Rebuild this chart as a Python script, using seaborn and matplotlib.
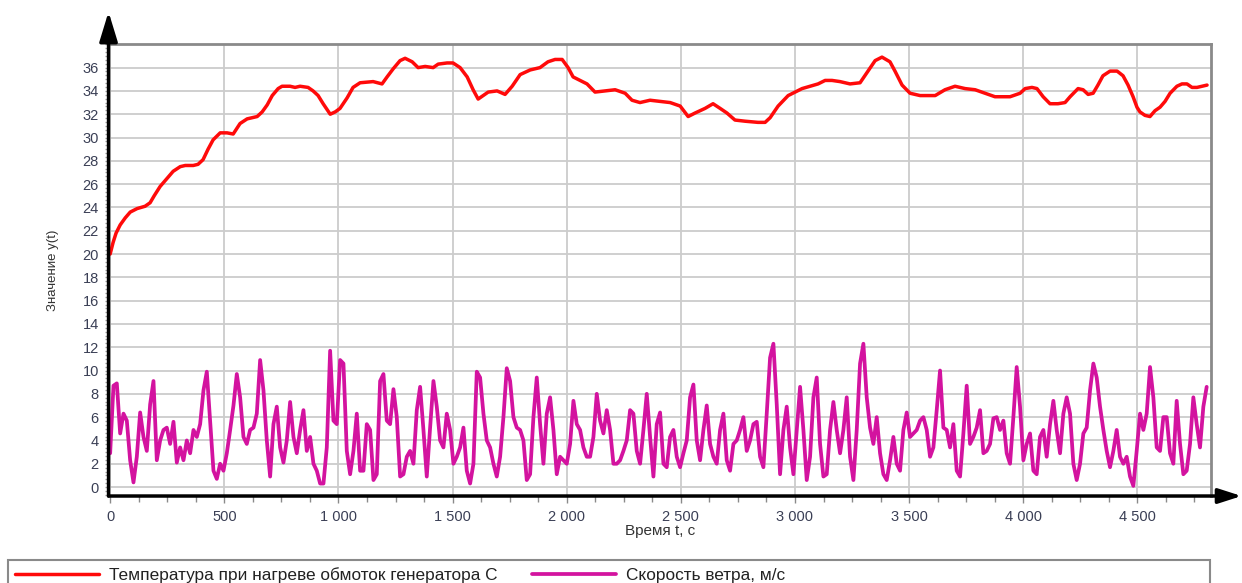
import matplotlib
matplotlib.use("Agg")
import numpy as np
import pandas as pd
import seaborn as sns
import matplotlib.pyplot as plt
from matplotlib.ticker import MultipleLocator, FuncFormatter
from matplotlib.patches import Rectangle

# ---------------- data ----------------
temp_label = "Температура при нагреве обмоток генератора С"
wind_label = "Скорость ветра, м/с"
x_label = "Время t, с"
y_label = "Значение y(t)"

temp_time = [0, 13, 26, 44, 66, 88, 118, 153, 175, 193, 219, 250, 276, 307, 329, 364,
             385, 407, 429, 451, 482, 512, 539, 569, 600, 644, 666, 688, 710, 736, 753,
             788, 810, 832, 867, 889, 911, 933, 964, 986, 1007, 1038, 1064, 1095, 1152,
             1191, 1213, 1240, 1270, 1292, 1323, 1349, 1380, 1415, 1437, 1476, 1502, 1533,
             1564, 1590, 1612, 1634, 1656, 1695, 1730, 1761, 1796, 1840, 1883, 1918, 1949,
             1980, 2006, 2028, 2059, 2089, 2124, 2168, 2212, 2256, 2286, 2321, 2365, 2409,
             2453, 2497, 2532, 2562, 2606, 2641, 2672, 2702, 2737, 2781, 2838, 2869, 2891,
             2926, 2970, 3000, 3031, 3066, 3101, 3132, 3162, 3197, 3241, 3285, 3320, 3351,
             3381, 3416, 3438, 3469, 3504, 3548, 3614, 3657, 3701, 3745, 3789, 3833, 3876,
             3942, 3986, 4008, 4038, 4060, 4087, 4117, 4152, 4183, 4205, 4240, 4262, 4284,
             4306, 4327, 4349, 4380, 4411, 4437, 4459, 4481, 4498, 4511, 4533, 4555, 4577,
             4599, 4621, 4643, 4673, 4695, 4717, 4739, 4761, 4783, 4805]
temp_values = [20.0, 21.0, 21.8, 22.5, 23.1, 23.6, 23.9, 24.1, 24.4, 25.0, 25.8, 26.5,
               27.1, 27.5, 27.6, 27.6, 27.7, 28.1, 29.0, 29.8, 30.4, 30.4, 30.3, 31.2,
               31.6, 31.8, 32.2, 32.8, 33.6, 34.2, 34.4, 34.4, 34.3, 34.4, 34.3, 34.0,
               33.6, 32.9, 32.0, 32.2, 32.5, 33.4, 34.3, 34.7, 34.8, 34.6, 35.2, 35.9,
               36.6, 36.8, 36.5, 36.0, 36.1, 36.0, 36.3, 36.4, 36.4, 36.0, 35.2, 34.1,
               33.3, 33.6, 33.9, 34.0, 33.7, 34.4, 35.4, 35.8, 36.0, 36.5, 36.7, 36.7,
               36.0, 35.2, 34.9, 34.6, 33.9, 34.0, 34.1, 33.8, 33.2, 33.0, 33.2, 33.1,
               33.0, 32.7, 31.8, 32.1, 32.5, 32.9, 32.5, 32.1, 31.5, 31.4, 31.3, 31.3,
               31.7, 32.7, 33.6, 33.9, 34.2, 34.4, 34.6, 34.9, 34.9, 34.8, 34.6, 34.7,
               35.7, 36.6, 36.9, 36.5, 35.7, 34.5, 33.8, 33.6, 33.6, 34.1, 34.4, 34.2,
               34.1, 33.8, 33.5, 33.5, 33.8, 34.2, 34.3, 34.2, 33.5, 32.9, 32.9, 33.0,
               33.5, 34.2, 34.1, 33.7, 33.8, 34.5, 35.3, 35.7, 35.7, 35.3, 34.5, 33.5,
               32.6, 32.2, 31.9, 31.8, 32.3, 32.6, 33.1, 33.8, 34.4, 34.6, 34.6, 34.3,
               34.3, 34.4, 34.5]

wind_step = 14.6  # seconds between read-off samples
wind_values = [
    2.9, 8.7, 8.9, 4.6, 6.3, 5.7, 2.3, 0.4, 2.6, 6.4, 4.3, 3.1, 7.1, 9.1, 2.3, 4.0,
    4.9, 5.1, 3.7, 5.6, 2.1, 3.4, 2.3, 4.0, 2.9, 4.9, 4.3, 5.4, 8.3, 9.9, 5.7, 1.4,
    0.7, 2.0, 1.4, 2.9, 4.9, 7.0, 9.7, 7.7, 4.3, 3.7, 4.9, 5.1, 6.3, 10.9, 8.3, 4.0,
    0.9, 5.4, 6.9, 3.4, 2.1, 4.0, 7.3, 4.3,
    2.9, 4.9, 6.6, 3.1, 4.3, 2.0, 1.4, 0.3, 0.3, 3.4, 11.7, 5.7, 5.4, 10.9, 10.6, 3.1,
    1.1, 3.1, 6.3, 1.4, 1.4, 5.4, 4.9, 0.6, 1.1, 9.1, 9.7, 5.7, 5.4, 8.4, 6.0, 0.9,
    1.1, 2.6, 3.1, 2.0, 6.6, 8.6, 4.9, 0.9, 5.1, 9.1, 6.9, 4.0, 3.4, 6.3, 4.9, 2.0,
    2.6, 3.4, 5.1, 1.4, 0.3, 2.0, 9.9,
    9.4, 6.3, 4.0, 3.4, 2.0, 0.9, 2.6, 6.0, 10.2, 9.1, 6.0, 5.1, 4.9, 4.0, 0.6, 1.1,
    6.0, 9.4, 5.4, 2.0, 6.3, 7.7, 4.9, 1.1, 2.6, 2.3, 2.0, 3.7, 7.4, 5.4, 4.9, 3.4,
    2.6, 2.6, 4.3, 8.0, 5.7, 4.6, 6.6, 4.9, 2.0, 2.0, 2.3, 3.1, 4.0, 6.6, 6.3, 3.1,
    2.0, 4.9, 8.0, 4.3, 0.9, 5.4, 6.4, 2.0,
    1.7, 4.3, 4.9, 2.6, 1.7, 2.9, 4.0, 7.7, 8.8, 4.0, 2.3, 4.9, 7.0, 3.7, 2.6, 2.0,
    4.9, 6.3, 2.3, 1.4, 3.7, 4.0, 4.9, 6.0, 3.1, 4.0, 5.4, 5.6, 2.6, 1.7, 6.3, 11.1,
    12.3, 7.1, 1.1, 4.9, 6.9, 3.4, 1.1, 4.9, 8.6, 4.9, 0.6, 2.6, 7.7, 9.4, 3.7, 0.9,
    1.1, 4.9, 7.3, 4.9, 2.9, 4.9, 7.7,
    2.6, 0.6, 4.9, 10.6, 12.3, 7.7, 5.1, 3.7, 6.0, 2.9, 1.1, 0.6, 2.3, 4.3, 2.0, 1.4,
    4.9, 6.4, 4.3, 4.6, 4.9, 5.7, 6.0, 4.9, 2.6, 3.4, 6.6, 10.0, 5.1, 4.9, 3.4, 5.4,
    1.4, 0.9, 4.6, 8.7, 3.7, 4.3, 5.1, 6.6, 2.9, 3.1, 3.7, 5.9, 6.0, 4.9, 5.7, 2.9,
    2.0, 6.0, 10.3, 6.9, 2.3, 3.7, 4.6, 1.4,
    1.1, 4.3, 4.9, 2.6, 5.4, 7.4, 4.9, 2.9, 6.3, 7.7, 6.3, 2.0, 0.6, 2.0, 4.6, 5.1,
    8.3, 10.6, 9.4, 6.9, 4.9, 3.1, 1.7, 3.1, 4.9, 2.6, 2.0, 2.6, 0.9, 0.1, 3.1, 6.3,
    4.9, 6.3, 10.3, 7.7, 3.4, 3.1, 6.0, 6.0, 2.9, 2.0, 7.4, 3.7, 1.1, 1.4, 3.7, 7.7,
    5.4, 3.4, 6.9, 8.6]
wind_time = np.arange(len(wind_values)) * wind_step

x_ticks = list(range(0, 5000, 500))
y_ticks = list(range(0, 37, 2))

# ---------------- style ----------------
sns.set_theme(style="white")
plt.rcParams["font.family"] = ["Liberation Sans", "DejaVu Sans"]

RED = "#ff0a0a"
MAGENTA = "#d3139f"
TICKTXT = "#3a3f55"

fig = plt.figure(figsize=(12.42, 5.83), dpi=100)
fig.patch.set_facecolor("white")
ax = fig.add_axes([0.0874, 0.1492, 0.8874, 0.7748])

df_t = pd.DataFrame({"t": temp_time, "v": temp_values})
df_w = pd.DataFrame({"t": wind_time, "v": wind_values})
sns.lineplot(data=df_t, x="t", y="v", ax=ax, color=RED, linewidth=2.5,
             estimator=None, label=temp_label)
sns.lineplot(data=df_w, x="t", y="v", ax=ax, color=MAGENTA, linewidth=2.7,
             estimator=None, label=wind_label)
handles, labels = ax.get_legend_handles_labels()
if ax.get_legend() is not None:
    ax.get_legend().remove()

ax.set_xlim(-7, 4821)
ax.set_ylim(-0.77, 38)
ax.set_xticks(x_ticks)
ax.set_yticks(y_ticks)
ax.xaxis.set_major_formatter(FuncFormatter(lambda v, p: f"{int(round(v)):,}".replace(",", " ")))
ax.xaxis.set_minor_locator(MultipleLocator(125))
ax.yaxis.set_minor_locator(MultipleLocator(1 / 3))
ax.set_axisbelow(True)
ax.grid(True, which="major", color="#cccccc", linewidth=1.3)
ax.grid(False, which="minor")

ax.tick_params(axis="x", which="major", bottom=True, length=5, width=1, color="#8a8a8a",
               labelsize=10.5, labelcolor=TICKTXT, pad=5)
ax.tick_params(axis="x", which="minor", bottom=True, length=4, width=1, color="#8a8a8a")
ax.tick_params(axis="y", which="major", left=True, length=3, width=1, color="#9a9a9a",
               labelsize=10.5, labelcolor=TICKTXT, pad=4)
ax.tick_params(axis="y", which="minor", left=True, length=3, width=1, color="#9a9a9a")

for s in ("top", "right"):
    ax.spines[s].set_color("#8a8a8a")
    ax.spines[s].set_linewidth(2)
for s in ("left", "bottom"):
    ax.spines[s].set_visible(False)

# axis arrows
ax.annotate("", xy=(0, 1.072), xytext=(0, 0), xycoords="axes fraction",
            textcoords="axes fraction", annotation_clip=False,
            arrowprops=dict(arrowstyle="-|>,head_length=1.8,head_width=0.55",
                            color="black", lw=2.5, shrinkA=0, shrinkB=0,
                            mutation_scale=10))
ax.annotate("", xy=(1.028, 0), xytext=(0, 0), xycoords="axes fraction",
            textcoords="axes fraction", annotation_clip=False,
            arrowprops=dict(arrowstyle="-|>,head_length=1.4,head_width=0.45",
                            color="black", lw=2.5, shrinkA=0, shrinkB=0,
                            mutation_scale=10))

ax.set_xlabel(x_label, fontsize=11, color="#333333")
ax.xaxis.set_label_coords(0.5, -0.062)
ax.set_ylabel(y_label, fontsize=9.5, color="#333333")
ax.yaxis.set_label_coords(-0.045, 0.5)

# legend box and legend
fig.add_artist(Rectangle((8 / 1242, -0.05), (1210 - 8) / 1242, 0.05 + (583 - 560) / 583,
                         transform=fig.transFigure, fill=False, edgecolor="#8a8a8a",
                         linewidth=1.5))
leg = fig.legend(handles, labels, loc="center left", bbox_to_anchor=(15 / 1242, 8 / 583),
                 ncol=2, frameon=False, fontsize=12.4, handlelength=4.9,
                 handletextpad=0.58, columnspacing=1.98, borderpad=0, borderaxespad=0)
for t in leg.get_texts():
    t.set_color("#222222")

fig.savefig("out.png", dpi=100)
